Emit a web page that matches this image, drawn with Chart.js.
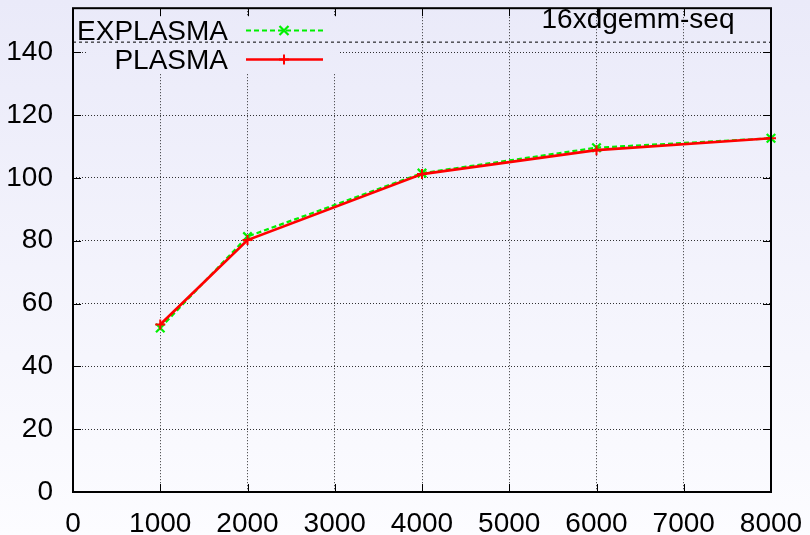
<!DOCTYPE html>
<html>
<head>
<meta charset="utf-8">
<title>16xdgemm-seq</title>
<script src="https://cdn.jsdelivr.net/npm/chart.js@4/dist/chart.umd.min.js"></script>
<style>
  html, body { margin: 0; padding: 0; background: #fff; }
  canvas { display: block; }
</style>
</head>
<body>
<canvas id="c" width="810" height="535"></canvas>
<script>
// Matrix sizes and Gflop/s for the two runtimes
const sizes = [1000, 2000, 4000, 6000, 8000];
const explasma = [52.2, 81.3, 101.5, 109.6, 112.6];
const plasma = [53.3, 80.2, 101.2, 108.8, 112.6];

// Horizontal reference line across the plot
const peakX = [0, 8000];
const peakY = [143.2, 143.2];

const xTicks = [0, 1000, 2000, 3000, 4000, 5000, 6000, 7000, 8000];
const xTickLabels = ['0', '1000', '2000', '3000', '4000', '5000', '6000', '7000', '8000'];
const yTicks = [0, 20, 40, 60, 80, 100, 120, 140];
const yTickLabels = ['0', '20', '40', '60', '80', '100', '120', '140'];

const titleText = '16xdgemm-seq';
const FONT = '28px "Liberation Sans", Arial, Helvetica, sans-serif';

function pairs(xs, ys) { return xs.map((x, i) => ({ x: x, y: ys[i] })); }

function bgGradient(ctx, h) {
  const g = ctx.createLinearGradient(0, 0, 0, h);
  g.addColorStop(0, '#eaeaf9');
  g.addColorStop(1, '#fcfcff');
  return g;
}

function drawMarker(ctx, style, x, y, r, color, w) {
  ctx.save();
  ctx.strokeStyle = color;
  ctx.lineWidth = w;
  ctx.setLineDash([]);
  ctx.beginPath();
  if (style === 'cross') {
    ctx.moveTo(x - r, y); ctx.lineTo(x + r, y);
    ctx.moveTo(x, y - r); ctx.lineTo(x, y + r);
  } else {
    const d = r * 0.75;
    ctx.moveTo(x - d, y - d); ctx.lineTo(x + d, y + d);
    ctx.moveTo(x - d, y + d); ctx.lineTo(x + d, y - d);
  }
  ctx.stroke();
  ctx.restore();
}

// Gradient page background, key area cleared of grid lines, frame and inward ticks
const framePlugin = {
  id: 'frame',
  beforeDraw(chart) {
    const ctx = chart.ctx;
    ctx.save();
    ctx.fillStyle = bgGradient(ctx, chart.height);
    ctx.fillRect(0, 0, chart.width, chart.height);
    ctx.restore();
  },
  beforeDatasetsDraw(chart) {
    const ctx = chart.ctx;
    const a = chart.chartArea;
    ctx.save();
    ctx.fillStyle = bgGradient(ctx, chart.height);
    ctx.fillRect(a.left + 15, a.top + 8, 250, 57);
    ctx.restore();
  },
  afterDatasetsDraw(chart) {
    const ctx = chart.ctx;
    const a = chart.chartArea;
    const xs = chart.scales.x, ys = chart.scales.y;
    const tl = 8;
    ctx.save();
    ctx.strokeStyle = '#000';
    ctx.lineWidth = 1;
    ctx.setLineDash([]);
    ctx.beginPath();
    xs.ticks.forEach(t => {
      const px = Math.round(xs.getPixelForValue(t.value)) + 0.5;
      ctx.moveTo(px, a.bottom); ctx.lineTo(px, a.bottom - tl);
      ctx.moveTo(px, a.top); ctx.lineTo(px, a.top + tl);
    });
    ys.ticks.forEach(t => {
      const py = Math.round(ys.getPixelForValue(t.value)) + 0.5;
      ctx.moveTo(a.left, py); ctx.lineTo(a.left + tl, py);
      ctx.moveTo(a.right, py); ctx.lineTo(a.right - tl, py);
    });
    ctx.stroke();
    ctx.lineWidth = 2;
    ctx.strokeRect(a.left, a.top, a.right - a.left, a.bottom - a.top);

    // title inside the plot, top right
    ctx.fillStyle = '#000';
    ctx.font = FONT;
    ctx.textAlign = 'center';
    ctx.textBaseline = 'alphabetic';
    ctx.fillText(titleText, 638, 28);

    // key: label right-aligned, then a line sample with its marker
    const rows = [chart.data.datasets[0], chart.data.datasets[1]];
    rows.forEach((ds, i) => {
      const cy = 30 + i * 29;
      ctx.fillStyle = '#000';
      ctx.textAlign = 'right';
      ctx.fillText(ds.label, 228, cy + 10);
      ctx.save();
      ctx.strokeStyle = ds.borderColor;
      ctx.lineWidth = ds.borderWidth;
      ctx.setLineDash(ds.borderDash || []);
      ctx.beginPath();
      ctx.moveTo(246, cy + 0.5); ctx.lineTo(323, cy + 0.5);
      ctx.stroke();
      ctx.restore();
      drawMarker(ctx, ds.pointStyle, 284, cy + 0.5, ds.pointRadius, ds.pointBorderColor, ds.pointBorderWidth);
    });
    ctx.restore();
  }
};

new Chart(document.getElementById('c'), {
  type: 'line',
  data: {
    datasets: [
      {
        label: 'EXPLASMA',
        data: pairs(sizes, explasma),
        borderColor: '#00f000',
        borderWidth: 2.2,
        borderDash: [5, 3],
        pointStyle: 'crossRot',
        pointRadius: 6,
        pointBorderColor: '#00f000',
        pointBorderWidth: 2.2,
        pointBackgroundColor: 'transparent',
        tension: 0,
        fill: false,
        clip: false,
        order: 1
      },
      {
        label: 'PLASMA',
        data: pairs(sizes, plasma),
        borderColor: '#ff0000',
        borderWidth: 2.7,
        pointStyle: 'cross',
        pointRadius: 5,
        pointBorderColor: '#ff0000',
        pointBorderWidth: 2,
        pointBackgroundColor: 'transparent',
        tension: 0,
        fill: false,
        clip: false,
        order: 0
      },
      {
        label: 'peak',
        data: pairs(peakX, peakY),
        borderColor: '#000',
        borderWidth: 1,
        borderDash: [3, 3],
        pointRadius: 0,
        tension: 0,
        fill: false,
        clip: false,
        order: 2
      }
    ]
  },
  options: {
    responsive: false,
    animation: false,
    devicePixelRatio: 1,
    layout: { padding: { left: 0, top: 7, right: 39, bottom: 0 } },
    plugins: {
      legend: { display: false },
      title: { display: false },
      tooltip: { enabled: false }
    },
    scales: {
      x: {
        type: 'linear',
        min: 0,
        max: 8000,
        afterBuildTicks(scale) { scale.ticks = xTicks.map(v => ({ value: v })); },
        afterFit(scale) { scale.height = 43; scale.paddingLeft = 0; scale.paddingRight = 0; },
        grid: { color: 'rgba(0,0,0,0.8)', lineWidth: 1, drawTicks: false },
        border: { display: false, dash: [1, 2] },
        ticks: {
          padding: 15,
          color: '#000',
          maxRotation: 0,
          autoSkip: false,
          font: { family: '"Liberation Sans", Arial, Helvetica, sans-serif', size: 28 },
          callback: (v, i) => xTickLabels[i]
        }
      },
      y: {
        type: 'linear',
        min: 0,
        max: 154,
        afterBuildTicks(scale) { scale.ticks = yTicks.map(v => ({ value: v })); },
        afterFit(scale) { scale.width = 73; scale.paddingTop = 0; scale.paddingBottom = 0; },
        grid: { color: 'rgba(0,0,0,0.8)', lineWidth: 1, drawTicks: false },
        border: { display: false, dash: [1, 2] },
        ticks: {
          padding: 20,
          color: '#000',
          autoSkip: false,
          font: { family: '"Liberation Sans", Arial, Helvetica, sans-serif', size: 28 },
          callback: (v, i) => yTickLabels[i]
        }
      }
    }
  },
  plugins: [framePlugin]
});
</script>
</body>
</html>
